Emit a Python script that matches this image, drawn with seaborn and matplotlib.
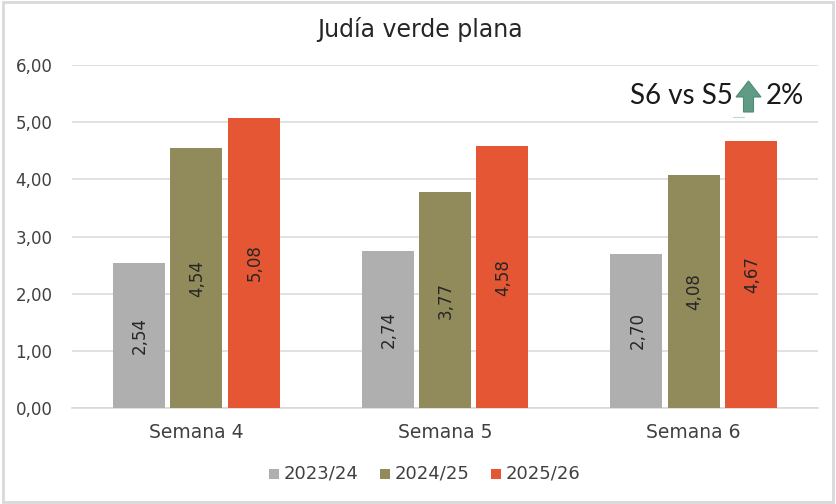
import matplotlib
matplotlib.use("Agg")
import matplotlib.pyplot as plt
import seaborn as sns
import pandas as pd
from matplotlib.patches import Rectangle, FancyArrow
from matplotlib.lines import Line2D

weeks = ["Semana 4", "Semana 5", "Semana 6"]
seasons = ["2023/24", "2024/25", "2025/26"]
v2324 = [2.54, 2.74, 2.70]
v2425 = [4.54, 3.77, 4.08]
v2526 = [5.08, 4.58, 4.67]
colors = ["#AFAFAF", "#918B5C", "#E55634"]
title = "Judía verde plana"
note_left = "S6 vs S5"
note_right = "2%"
yticks = [0, 1, 2, 3, 4, 5, 6]

df = pd.DataFrame({
    "week": weeks * 3,
    "season": [s for s in seasons for _ in weeks],
    "value": v2324 + v2425 + v2526,
})

sns.set_theme(style="white")
plt.rcParams["font.family"] = ["DejaVu Sans"]
W, H = 837, 504
fig = plt.figure(figsize=(W / 100, H / 100), dpi=100, facecolor="white")
ax = fig.add_axes([72 / W, 1 - 408 / H, (818 - 72) / W, (408 - 65) / H])
sns.barplot(data=df, x="week", y="value", hue="season", hue_order=seasons,
            order=weeks, palette=colors, width=0.69, gap=0.09, saturation=1,
            ax=ax, legend=False, zorder=3, linewidth=0)
ax.set_ylim(0, 6)
ax.set_xlim(-0.5, 2.5)
ax.set_yticks(yticks)
ax.set_yticklabels([f"{v:.2f}".replace(".", ",") for v in yticks], fontsize=12, color="#404040")
ax.tick_params(axis="y", length=0, pad=14)
ax.tick_params(axis="x", length=0, pad=11, labelsize=13.5, labelcolor="#404040")
ax.set_xlabel("")
ax.set_ylabel("")
ax.grid(axis="y", color="#DCDCDC", lw=1.2, zorder=0)
ax.set_axisbelow(True)
for s in ["top", "right", "left"]:
    ax.spines[s].set_visible(False)
ax.spines["bottom"].set_color("#D9D9D9")
ax.spines["bottom"].set_linewidth(1.2)

for c in ax.containers:
    for bar in c:
        h = bar.get_height()
        ax.text(bar.get_x() + bar.get_width() / 2 + 0.004, h / 2, f"{h:.2f}".replace(".", ","),
                rotation=90, ha="center", va="center", fontsize=12, color="#262626", zorder=4)

fig.text(420 / W, 1 - 30 / H, title, ha="center", va="center", fontsize=17, color="#262626")
fig.text(630 / W, 1 - 96 / H, note_left, ha="left", va="center", fontsize=20,
         family="Lato", color="#1a1a1a")
fig.text(766 / W, 1 - 96 / H, note_right, ha="left", va="center", fontsize=20,
         family="Lato", color="#1a1a1a")
fig.add_artist(FancyArrow(748.5 / W, 1 - 112 / H, 0, 31 / H, width=10 / W, head_width=25 / W,
                          head_length=16 / H, length_includes_head=True,
                          transform=fig.transFigure, color="#5F9B85", ec="#4F8A75", lw=0.8))
fig.add_artist(Line2D([733 / W, 744 / W], [1 - 117 / H] * 2, transform=fig.transFigure,
                      color="#BFD8CE", lw=0.8))

# legend
lx = [269, 380, 491]
for x, s, c in zip(lx, seasons, colors):
    fig.add_artist(Rectangle((x / W, 1 - 479 / H), 10 / W, 10 / H, transform=fig.transFigure,
                             color=c, lw=0))
    fig.text((x + 15) / W, 1 - 474 / H, s, ha="left", va="center", fontsize=13, color="#404040")

fig.add_artist(Rectangle((2.5 / W, 1 - 502 / H), 831 / W, 500 / H, transform=fig.transFigure,
                         fill=False, ec="#D9D9D9", lw=2))
fig.savefig("out.png", dpi=100)
